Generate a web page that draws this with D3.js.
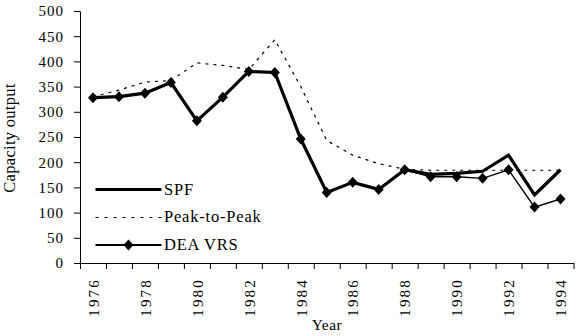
<!DOCTYPE html>
<html>
<head>
<meta charset="utf-8">
<script src="https://cdn.jsdelivr.net/npm/d3@7"></script>
<style>
  html, body { margin: 0; padding: 0; background: #fff; }
  svg { display: block; }
</style>
</head>
<body>
<svg id="chart" width="578" height="336"></svg>
<script>
const years = [1976,1977,1978,1979,1980,1981,1982,1983,1984,1985,1986,1987,1988,1989,1990,1991,1992,1993,1994];
const spf =        [328,330,337,358,282,329,380,378,246,140,160,146,185,176,178,182,214,135,185];
const peakToPeak = [330,343,359,362,397,392,384,443,350,243,214,197,186,184,184,184,184,184,184];
const deaVrs =     [328,330,337,358,282,329,380,378,246,140,160,146,185,171,171,168,185,111,127];
const yTicks = [0,50,100,150,200,250,300,350,400,450,500];
const xLabelYears = [1976,1978,1980,1982,1984,1986,1988,1990,1992,1994];
const seriesNames = ["SPF","Peak-to-Peak","DEA VRS"];

const FONT = '"Liberation Serif", "Times New Roman", serif';
const svg = d3.select("#chart");
const plotLeft = 80, plotRight = 573.5, plotTop = 11, plotBottom = 263;

const xi = d3.scaleLinear().domain([0, years.length]).range([plotLeft, plotRight]);
const xc = i => xi(i + 0.5);
const y = d3.scaleLinear().domain([0, 500]).range([plotBottom, plotTop]);

// Y axis
const yAxis = svg.append("g").attr("transform", `translate(${plotLeft},0)`)
  .call(d3.axisLeft(y).tickValues(yTicks).tickSize(6).tickSizeOuter(0).tickPadding(10).tickFormat(d3.format("d")));
yAxis.attr("font-family", FONT);
yAxis.select(".domain").attr("stroke", "#000").attr("stroke-width", 1);
yAxis.selectAll(".tick line").attr("stroke", "#000");
yAxis.selectAll("text").style("font-family", FONT).style("font-size", "15px").style("letter-spacing", "1px").attr("fill", "#000");

// X axis (tick marks at category boundaries)
const xAxis = svg.append("g").attr("transform", `translate(0,${plotBottom})`)
  .call(d3.axisBottom(xi).tickValues(d3.range(0, years.length + 1)).tickSize(6).tickSizeOuter(0).tickFormat(""));
xAxis.select(".domain").attr("stroke", "#000");
xAxis.selectAll(".tick line").attr("stroke", "#000");

// X labels at category centers
const xLab = svg.append("g").attr("transform", `translate(0,${plotBottom})`)
  .call(d3.axisBottom(xi).tickValues(xLabelYears.map(v => years.indexOf(v) + 0.5)).tickSize(0)
    .tickFormat(d => String(years[Math.floor(d)])));
xLab.attr("font-family", FONT);
xLab.select(".domain").remove();
xLab.selectAll("text")
  .attr("transform", "rotate(-90)")
  .attr("x", -15).attr("y", 0).attr("dy", "0.35em")
  .attr("text-anchor", "end")
  .attr("fill", "#000")
  .style("font-family", FONT)
  .style("font-size", "15px").style("letter-spacing", "2.2px");

// Lines
const line = d3.line().x((d, i) => xc(i)).y(d => y(d));
svg.append("path").datum(peakToPeak).attr("d", line)
  .attr("fill", "none").attr("stroke", "#000").attr("stroke-width", 1.2).attr("stroke-dasharray", "3,5");
svg.append("path").datum(spf).attr("d", line)
  .attr("fill", "none").attr("stroke", "#000").attr("stroke-width", 3.2).attr("stroke-linejoin", "miter");
svg.append("path").datum(deaVrs).attr("d", line)
  .attr("fill", "none").attr("stroke", "#000").attr("stroke-width", 1.4);
const diamond = "M0,-5.5L5,0L0,5.5L-5,0Z";
svg.append("g").selectAll("path").data(deaVrs).join("path")
  .attr("d", diamond)
  .attr("transform", (d, i) => `translate(${xc(i)},${y(d)})`)
  .attr("fill", "#000");

// Legend
const lg = svg.append("g");
const lx0 = 95.5, lx1 = 161.5;
lg.append("line").attr("x1", lx0).attr("x2", lx1).attr("y1", 189.5).attr("y2", 189.5)
  .attr("stroke", "#000").attr("stroke-width", 3);
lg.append("line").attr("x1", lx0).attr("x2", lx1).attr("y1", 217.5).attr("y2", 217.5)
  .attr("stroke", "#000").attr("stroke-width", 1).attr("stroke-dasharray", "3,6");
lg.append("line").attr("x1", lx0).attr("x2", lx1).attr("y1", 245).attr("y2", 245)
  .attr("stroke", "#000").attr("stroke-width", 2);
lg.append("path").attr("d", diamond).attr("transform", "translate(128.5,245)").attr("fill", "#000");
const legendBase = [195, 222, 250];
lg.selectAll("text").data(seriesNames).join("text")
  .attr("x", 164).attr("y", (d, i) => legendBase[i])
  .attr("fill", "#000")
  .style("font-family", FONT)
  .style("font-size", "16.5px").style("letter-spacing", "0.8px")
  .text(d => d);

// Axis titles
svg.append("text").attr("transform", "translate(15,138) rotate(-90)")
  .attr("text-anchor", "middle").attr("fill", "#000")
  .style("font-family", FONT).style("font-size", "16.5px").style("letter-spacing", "0.3px")
  .text("Capacity output");
svg.append("text").attr("x", 327).attr("y", 330).attr("text-anchor", "middle").attr("fill", "#000")
  .style("font-family", FONT).style("font-size", "15.5px").style("letter-spacing", "0.5px").text("Year");
</script>
</body>
</html>
